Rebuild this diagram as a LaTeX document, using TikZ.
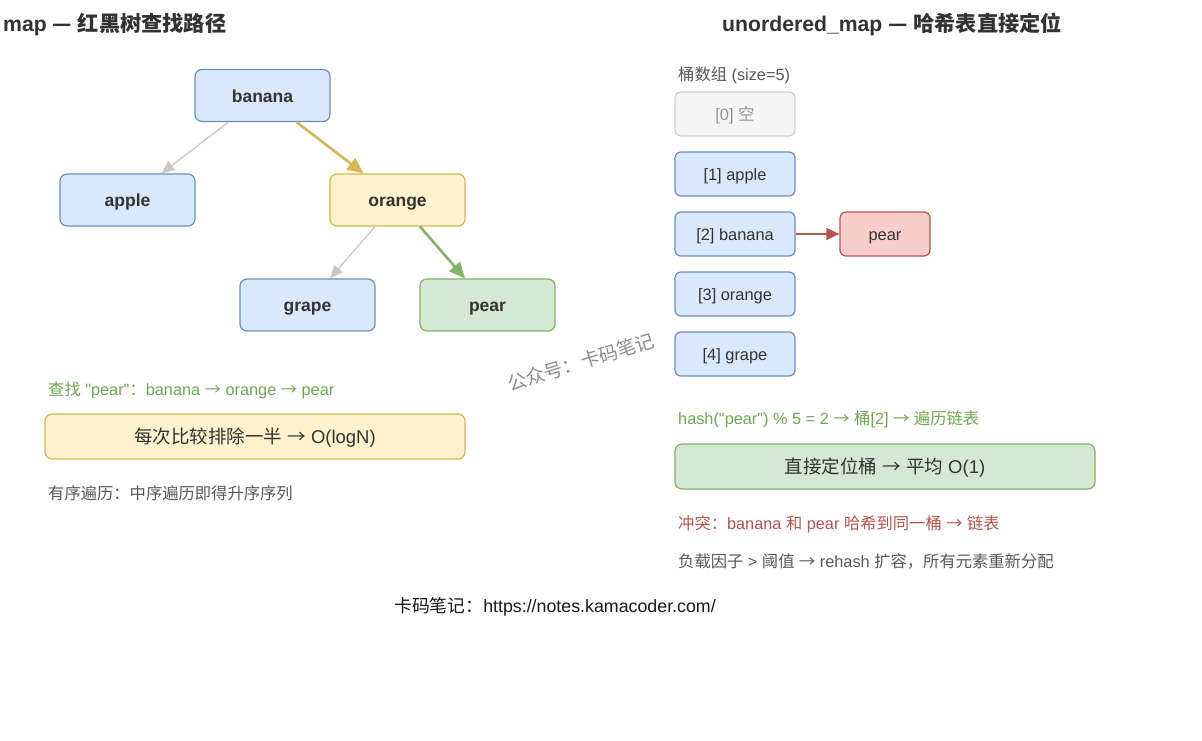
\documentclass[tikz,border=0pt]{standalone}
\usepackage{fontspec}
\setmainfont{Liberation Sans}[Ligatures=TeXOff]
\newfontfamily\cjk{Noto Sans CJK SC}
\newcommand\zh[1]{{\cjk #1}}
\newcommand\ar{\zh{→}}
\usetikzlibrary{arrows.meta}
\definecolor{textdark}{HTML}{333333}
\definecolor{bluefill}{HTML}{DAE8FC}
\definecolor{blueline}{HTML}{6C8EBF}
\definecolor{yelfill}{HTML}{FFF2CC}
\definecolor{yelline}{HTML}{D6B656}
\definecolor{grnfill}{HTML}{D5E8D4}
\definecolor{grnline}{HTML}{82B366}
\definecolor{redfill}{HTML}{F8CECC}
\definecolor{redline}{HTML}{B85450}
\definecolor{grayfill}{HTML}{F5F5F5}
\definecolor{grayline}{HTML}{D0D0D0}
\definecolor{edgegray}{HTML}{C8C8C8}
\definecolor{grntext}{HTML}{6FA852}
\definecolor{graytext}{HTML}{595959}
\begin{document}
\begin{tikzpicture}[x=1pt,y=-1pt,
  treenode/.style={draw, rounded corners=7pt, minimum width=135pt, minimum height=52pt,
    line width=1.2pt, inner sep=0pt, text height=16pt, text depth=3pt, text=textdark,
    font=\bfseries\fontsize{17.5}{20}\selectfont},
  bucket/.style={draw, rounded corners=6pt, minimum width=120pt, minimum height=44pt,
    line width=1.2pt, inner sep=0pt, text height=14.5pt, text depth=2.5pt, text=textdark,
    font=\fontsize{16.4}{19}\selectfont},
  bluebox/.style={fill=bluefill, draw=blueline},
  yelbox/.style={fill=yelfill, draw=yelline},
  grnbox/.style={fill=grnfill, draw=grnline},
  redbox/.style={fill=redfill, draw=redline},
  widebox/.style={draw, rounded corners=7pt, minimum width=420pt, minimum height=45pt,
    line width=1.2pt, inner sep=0pt, text height=16pt, text depth=2.9pt, text=textdark,
    font=\fontsize{18.5}{22}\selectfont},
  titletext/.style={anchor=west, inner sep=0pt, text height=18pt, text depth=3.1pt, text=textdark,
    font=\bfseries\fontsize{21.2}{24}\selectfont},
  note/.style={anchor=west, inner sep=0pt, text height=14.5pt, text depth=2.2pt,
    font=\fontsize{16.3}{19}\selectfont},
  grayedge/.style={draw=edgegray, line width=1.3pt, -{Triangle[length=13pt,width=11pt]}},
  goldedge/.style={draw=yelline, line width=2.6pt, -{Triangle[length=16pt,width=14pt]}},
  greenedge/.style={draw=grnline, line width=2.6pt, -{Triangle[length=16pt,width=14pt]}},
  rededge/.style={draw=redline, line width=1.6pt, -{Triangle[length=13pt,width=12pt]}}
]
\fill[white] (0,0) rectangle (1202,740);
\useasboundingbox (0,0) rectangle (1202,740);

% titles
\node[titletext] (t1) at (3,24) {map \zh{—} \zh{红黑树查找路径}};
\node[titletext] (t2) at (722,24) {unordered\_map \zh{—} \zh{哈希表直接定位}};

% tree
\node[treenode, bluebox] (banana) at (262.5,95.5) {banana};
\node[treenode, bluebox] (apple) at (127.5,200) {apple};
\node[treenode, yelbox] (orange) at (397.5,200) {orange};
\node[treenode, bluebox] (grape) at (307.5,305) {grape};
\node[treenode, grnbox] (pear) at (487.5,305) {pear};

\draw[grayedge] ([xshift=-34pt]banana.south) -- ([xshift=34pt]apple.north);
\draw[goldedge] ([xshift=34pt]banana.south) -- ([xshift=-34pt]orange.north);
\draw[grayedge] ([xshift=-22.5pt]orange.south) -- ([xshift=22.5pt]grape.north);
\draw[greenedge] ([xshift=22.5pt]orange.south) -- ([xshift=-22.5pt]pear.north);

\node[note, text=grntext] (path) at (48,389) {\zh{查找} "pear"\zh{：}banana \ar{} orange \ar{} pear};
\node[widebox, yelbox] (cmp) at (255,436.5) {\zh{每次比较排除一半} \ar{} O(logN)};
\node[note, text=graytext] (inorder) at (48,493) {\zh{有序遍历：中序遍历即得升序序列}};

% watermark
\node[inner sep=0pt, text=black!45, rotate=17, font=\cjk\fontsize{19}{22}\selectfont] (wm) at (581,362) {公众号：卡码笔记};

% hash table
\node[note, text=graytext] (arrlabel) at (678,74) {\zh{桶数组} (size=5)};
\node[bucket, fill=grayfill, draw=grayline, text=black!42] (b0) at (735,114) {[0] \zh{空}};
\node[bucket, bluebox] (b1) at (735,174) {[1] apple};
\node[bucket, bluebox] (b2) at (735,234) {[2] banana};
\node[bucket, bluebox] (b3) at (735,294) {[3] orange};
\node[bucket, bluebox] (b4) at (735,354) {[4] grape};
\node[bucket, redbox, minimum width=90pt] (chain) at (885,234) {pear};
\draw[rededge] (b2.east) -- (chain.west);

\node[note, text=grntext] (hashline) at (678,418) {hash("pear") \% 5 = 2 \ar{} \zh{桶}[2] \ar{} \zh{遍历链表}};
\node[widebox, grnbox] (direct) at (885,466.5) {\zh{直接定位桶} \ar{} \zh{平均} O(1)};
\node[note, text=redline] (collide) at (678,523) {\zh{冲突：}banana \zh{和} pear \zh{哈希到同一桶} \ar{} \zh{链表}};
\node[note, text=graytext] (rehash) at (678,561) {\zh{负载因子} > \zh{阈值} \ar{} rehash \zh{扩容，所有元素重新分配}};

% footer
\node[inner sep=0pt, text height=16pt, text depth=3pt, text=black!90, font=\fontsize{17.8}{20}\selectfont] (footer) at (555,606) {\zh{卡码笔记：}https://notes.kamacoder.com/};
\end{tikzpicture}
\end{document}
